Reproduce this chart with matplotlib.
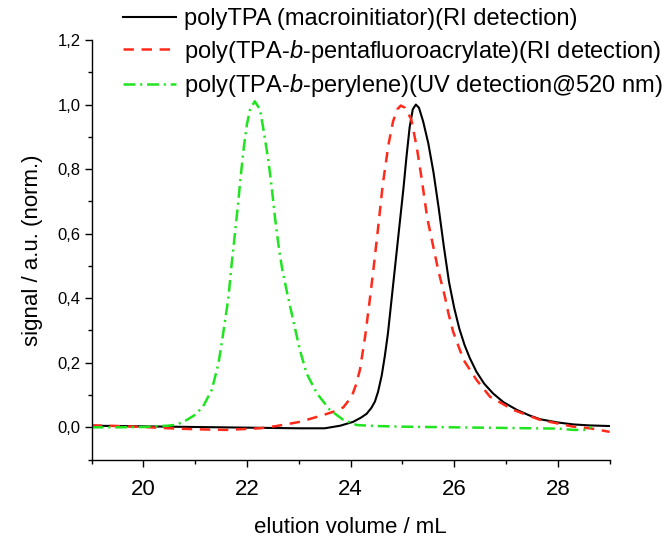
import matplotlib
matplotlib.use("Agg")
import matplotlib.pyplot as plt
from matplotlib.ticker import MultipleLocator, FuncFormatter

plt.rcParams['font.family'] = ['Liberation Sans', 'DejaVu Sans']
plt.rcParams['mathtext.fontset'] = 'custom'
plt.rcParams['mathtext.rm'] = 'Liberation Sans'
plt.rcParams['mathtext.it'] = 'Liberation Sans:italic'
plt.rcParams['lines.scale_dashes'] = False

# SEC traces (normalised signal vs elution volume in mL)
tpa_x = [19.0, 19.5, 20.0, 20.5, 21.0, 21.5, 22.0, 22.5, 23.0, 23.5, 23.8, 24.05,
         24.2, 24.31, 24.40, 24.47, 24.53, 24.60, 24.66, 24.72, 24.78, 24.84, 24.90,
         24.96, 25.02, 25.08, 25.14, 25.20, 25.26, 25.32, 25.40, 25.50, 25.60, 25.70,
         25.80, 25.90, 26.00, 26.10, 26.20, 26.30, 26.43, 26.58, 26.75, 26.95, 27.21,
         27.45, 27.66, 28.0, 28.3, 28.6, 29.0]
tpa_y = [0.005, 0.004, 0.003, 0.002, 0.001, 0.0, -0.001, -0.002, -0.003, -0.003, 0.005,
         0.017, 0.03, 0.042, 0.06, 0.08, 0.11, 0.16, 0.22, 0.29, 0.38, 0.47, 0.56,
         0.65, 0.74, 0.84, 0.93, 0.985, 1.0, 0.99, 0.948, 0.88, 0.79, 0.68, 0.56, 0.45,
         0.37, 0.305, 0.255, 0.215, 0.172, 0.135, 0.105, 0.078, 0.054, 0.037, 0.025,
         0.015, 0.009, 0.006, 0.004]

pfa_x = [19.0, 19.5, 20.0, 20.5, 21.0, 21.6, 22.25, 22.57, 23.02, 23.47, 23.7, 23.86,
         24.02, 24.10, 24.18, 24.28, 24.37, 24.44, 24.53, 24.62, 24.73, 24.82, 24.90,
         24.97, 25.05, 25.17, 25.28, 25.37, 25.48, 25.63, 25.69, 25.82, 25.89, 25.98,
         26.18, 26.43, 26.69, 27.14, 27.66, 28.3, 28.62, 29.0]
pfa_y = [0.006, 0.004, 0.001, -0.003, -0.006, -0.008, -0.003, 0.004, 0.017, 0.038, 0.05,
         0.062, 0.095, 0.13, 0.178, 0.281, 0.395, 0.488, 0.617, 0.751, 0.875, 0.948,
         0.985, 0.997, 0.99, 0.955, 0.865, 0.772, 0.648, 0.534, 0.488, 0.405, 0.352,
         0.296, 0.209, 0.147, 0.095, 0.054, 0.023, 0.002, -0.003, -0.014]

per_x = [19.0, 19.5, 20.0, 20.32, 20.47, 20.58, 20.67, 20.84, 20.99, 21.09, 21.15, 21.32,
         21.45, 21.54, 21.64, 21.70, 21.76, 21.82, 21.88, 21.94, 22.0, 22.06, 22.15,
         22.25, 22.31, 22.41, 22.48, 22.54, 22.62, 22.68, 22.77, 22.89, 23.02, 23.15,
         23.35, 23.60, 23.86, 24.12, 24.5, 25.0, 25.5, 26.0, 26.5, 27.0, 27.5, 28.0,
         28.3, 28.56, 28.65]
per_y = [0.0, 0.0, 0.001, 0.004, 0.005, 0.007, 0.01, 0.023, 0.038, 0.054, 0.064, 0.116,
         0.198, 0.291, 0.40, 0.50, 0.59, 0.68, 0.78, 0.87, 0.94, 0.985, 1.01,
         0.985, 0.93, 0.83, 0.74, 0.65, 0.55, 0.49, 0.42, 0.333, 0.24, 0.167,
         0.105, 0.054, 0.023, 0.007, 0.004, 0.002, 0.001, 0.0, -0.001, -0.002, -0.003,
         -0.004, -0.008, -0.008, 0.002]

labels = ["polyTPA (macroinitiator)(RI detection)",
          r"poly(TPA-$\mathit{b}$-pentafluoroacrylate)(RI detection)",
          r"poly(TPA-$\mathit{b}$-perylene)(UV detection@520 nm)"]

fig = plt.figure(figsize=(6.71, 5.39), dpi=100)
ax = fig.add_axes([91.6 / 671, 79.4 / 539, 518 / 671, 419.6 / 539])

ax.plot(tpa_x, tpa_y, color='black', lw=1.5, label=labels[0])
ax.plot(pfa_x, pfa_y, color='#ff2a1a', lw=1.8, linestyle=(0, (7.5, 5.5)), label=labels[1])
ax.plot(per_x, per_y, color='#1fe41f', lw=1.8,
        linestyle=(0, (8.5, 3.5, 1.5, 3.5)), label=labels[2])

ax.set_xlim(19, 29)
ax.set_ylim(-0.1, 1.2)
ax.xaxis.set_major_locator(MultipleLocator(2))
ax.xaxis.set_minor_locator(MultipleLocator(1))
ax.yaxis.set_major_locator(MultipleLocator(0.2))
ax.yaxis.set_minor_locator(MultipleLocator(0.1))
ax.yaxis.set_major_formatter(FuncFormatter(lambda v, p: f"{v:.1f}".replace('.', ',')))

for s in ('top', 'right'):
    ax.spines[s].set_visible(False)
for s in ('left', 'bottom'):
    ax.spines[s].set_linewidth(1.0)

ax.tick_params(axis='x', which='major', direction='out', length=5, width=1.0,
               labelsize=16, pad=9)
ax.tick_params(axis='x', which='minor', direction='out', length=3, width=1.0)
ax.tick_params(axis='y', which='major', direction='out', length=5, width=1.0,
               labelsize=12, pad=3)
ax.tick_params(axis='y', which='minor', direction='out', length=3, width=1.0)

ax.set_xlabel("elution volume / mL", fontsize=16, labelpad=12)
ax.set_ylabel("signal / a.u. (norm.)", fontsize=16, labelpad=10)

fig.legend(loc='upper left', bbox_to_anchor=(123 / 671, 1 - 8 / 539),
           frameon=False, fontsize=17, handlelength=2.25, handletextpad=0.35,
           labelspacing=0.32, borderpad=0, borderaxespad=0)

fig.savefig("out.png", dpi=100)
